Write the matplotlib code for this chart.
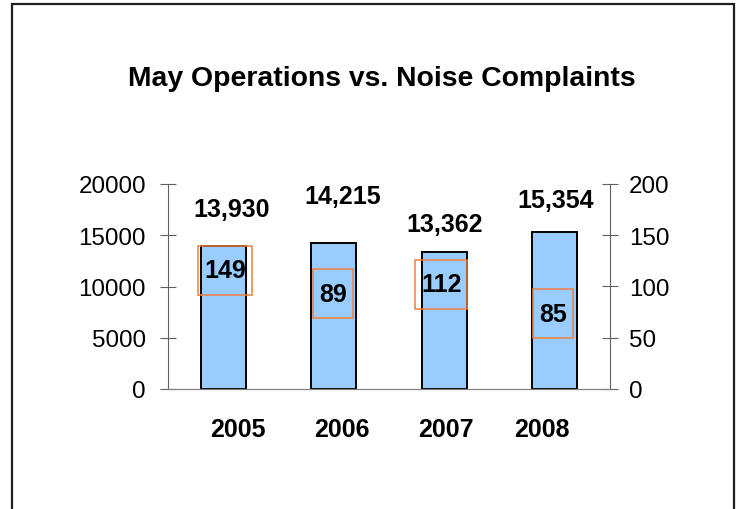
import matplotlib.pyplot as plt
from matplotlib.path import Path
from matplotlib.patches import Rectangle

plt.rcParams['font.family'] = ['Liberation Sans', 'DejaVu Sans']

years = ['2005', '2006', '2007', '2008']
operations = [13930, 14215, 13362, 15354]
complaints = [149, 89, 112, 85]

# hand placed label offsets (pixels), like in the original sheet
ops_offsets = [(8, 37), (9, 47), (0, 28), (1, 32)]
cmp_offsets = [(1.5, -34), (-1, 4), (-3, -10), (-2, -12)]
year_offsets = [(15, -40), (8, -40), (1.5, -40), (-13, -40)]

ORANGE = '#F0803C'
BLUE = '#99CCFF'


def tall_box(x0, y0, width, height, mutation_size):
    # rectangle with small side padding and big top/bottom padding
    px = 0.24 * mutation_size
    cy = y0 + height / 2
    hh = 0.98 * mutation_size
    xs = [x0 - px, x0 + width + px, x0 + width + px, x0 - px, x0 - px]
    ys = [cy - hh, cy - hh, cy + hh, cy + hh, cy - hh]
    return Path(list(zip(xs, ys)), closed=True)


fig = plt.figure(figsize=(7.37, 5.10), dpi=100)
ax = fig.add_axes([168 / 737, 1 - 390 / 510, 442 / 737, 205 / 510])
ax2 = ax.twinx()

x = list(range(len(years)))
ax.bar(x, operations, width=0.41, color=BLUE, edgecolor='black', linewidth=1.4, zorder=2)
ax.set_xlim(-0.5, len(years) - 0.5)
ax.set_ylim(0, 20000)
ax.set_yticks([0, 5000, 10000, 15000, 20000])
ax2.set_ylim(0, 200)
ax2.set_yticks([0, 50, 100, 150, 200])

for a in (ax, ax2):
    a.spines['top'].set_visible(False)
    a.tick_params(axis='y', direction='inout', length=11, width=0.8,
                  color='#606060', labelsize=17.4, labelcolor='black')
    a.spines['bottom'].set_color('#808080')
ax.spines['right'].set_visible(False)
ax.spines['left'].set_color('#606060')
ax2.spines['left'].set_visible(False)
ax2.spines['right'].set_color('#606060')
ax.tick_params(axis='y', pad=10.5)
ax2.tick_params(axis='y', pad=8)
ax.set_xticks(x)
ax.set_xticklabels([])
ax.tick_params(axis='x', length=0)

for i, v in enumerate(operations):
    ax.annotate(f'{v:,}', xy=(i, v), xytext=ops_offsets[i], textcoords='offset pixels',
                ha='center', va='center', fontsize=18, fontweight='bold')

for i, v in enumerate(complaints):
    ax2.annotate(str(v), xy=(i, v), xytext=cmp_offsets[i], textcoords='offset pixels',
                 ha='center', va='center', fontsize=18, fontweight='bold',
                 bbox=dict(boxstyle=tall_box, facecolor='none', edgecolor=ORANGE, linewidth=1.1))

for i, yr in enumerate(years):
    ax.annotate(yr, xy=(i, 0), xytext=year_offsets[i], textcoords='offset pixels',
                ha='center', va='center', fontsize=18, fontweight='bold',
                annotation_clip=False)

fig.text(382 / 737, 1 - 79 / 510, 'May Operations vs. Noise Complaints',
         ha='center', va='center', fontsize=20.4, fontweight='bold')

fig.patches.append(Rectangle((12 / 737, -0.1), 722 / 737, 0.1 + 1 - 5 / 510,
                             transform=fig.transFigure, fill=False,
                             edgecolor='#202020', linewidth=1.6))

fig.savefig('out.png', dpi=100)
